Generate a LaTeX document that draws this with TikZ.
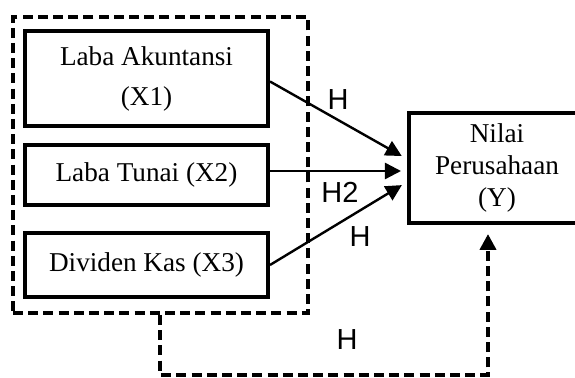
\documentclass[tikz,border=0pt]{standalone}
\usepackage{fontspec}
\setmainfont{Liberation Serif}
\newfontfamily\lblfont{Liberation Sans}
\usetikzlibrary{arrows.meta,positioning,calc}

\begin{document}
\begin{tikzpicture}[x=0.5pt,y=-0.5pt,>={Triangle[length=8pt,width=8pt]},
  var/.style={draw,line width=2pt,inner sep=0pt,align=center,font=\fontsize{13.6}{16}\selectfont},
  grpbox/.style={draw,line width=2pt,dash pattern=on 5pt off 2.6pt,inner sep=0pt},
  lbl/.style={inner sep=0pt,font=\lblfont\fontsize{14.5}{16}\selectfont}]
\useasboundingbox (0,0) rectangle (575,378);
\node[grpbox,minimum width=147.5pt,minimum height=148pt] (grp) at (160.5,165) {};
\node[var,minimum width=121.5pt,minimum height=47.5pt] (x1) at (146.5,78.5) {Laba Akuntansi\\[4pt](X1)};
\node[var,minimum width=121.5pt,minimum height=30pt] (x2) at (146.5,175) {Laba Tunai (X2)};
\node[var,minimum width=121.5pt,minimum height=32pt] (x3) at (146.5,265) {Dividen Kas (X3)};
\node[var,minimum width=88pt,minimum height=55pt] (y) at (497,168) {Nilai\\Perusahaan\\(Y)};
\draw[->,line width=1.2pt,shorten >=3pt] ($(x1.east)+(0,3)$)--($(y.west)+(0,-9)$);
\draw[->,line width=1.2pt,shorten >=3pt] ($(x2.east)+(0,-4)$)--($(y.west)+(0,3)$);
\draw[->,line width=1.2pt,shorten >=3pt] (x3.east)--($(y.west)+(0,14)$);
\draw[->,line width=2pt,dash pattern=on 5pt off 2.6pt,shorten >=4.5pt] (grp.south)--++(0,60)-|($(y.south)+(-9,0)$);
\node[lbl] (h1) at (338,100) {H};
\node[lbl] (h2) at (340,192) {H2};
\node[lbl] (h3) at (360,237) {H};
\node[lbl] (h4) at (347,340) {H};
\end{tikzpicture}
\end{document}
